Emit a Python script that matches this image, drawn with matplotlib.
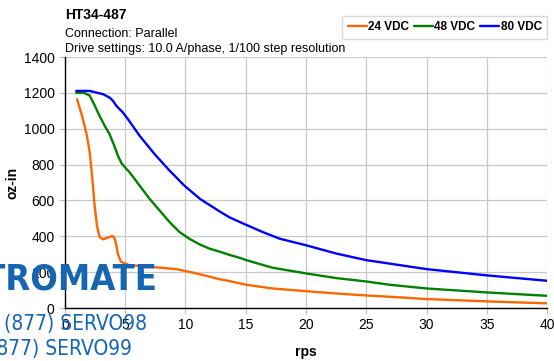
# HT34-487 torque curves, parallel connection
import matplotlib
matplotlib.use("Agg")
from matplotlib import pyplot as plt

rps_24 = [1.0, 1.49, 1.82, 2.05, 2.19, 2.32, 2.46, 2.65, 2.87, 3.15, 3.56, 3.93, 4.12, 4.26,
          4.39, 4.53, 4.67, 5.36, 7.0, 9.23, 10.9, 12.8, 13.67, 15, 17.2, 20, 22.5, 25, 26.9,
          30, 35, 40]
tq_24 = [1165, 1054, 961, 869, 776, 683, 572, 461, 396, 383, 393, 402, 390, 350,
         300, 276, 257, 239, 230, 217, 193, 161, 150, 130, 109, 94, 81, 70, 63,
         50, 37, 26]

rps_48 = [0.94, 1.6, 2.05, 2.46, 2.87, 3.29, 3.7, 4.12, 4.39, 4.67, 5.09, 5.36, 6.19, 7.02,
          7.85, 8.67, 9.5, 10.3, 11.2, 12.0, 12.8, 13.67, 14.5, 15, 17.2, 20, 22.5, 25, 26.9,
          30, 35, 40]
tq_48 = [1200, 1200, 1185, 1130, 1072, 1017, 970, 900, 850, 810, 776, 757, 683, 609,
         544, 480, 424, 387, 354, 331, 315, 296, 280, 268, 225, 193, 167, 148, 130,
         109, 87, 68]

rps_80 = [0.94, 2.05, 3.15, 3.7, 3.98, 4.26, 4.8, 5.22, 6.19, 7.43, 8.67, 9.9, 11.2, 12.8,
          13.67, 15, 16.4, 17.8, 20, 22.5, 25, 26.9, 30, 35, 40]
tq_80 = [1211, 1211, 1193, 1174, 1156, 1128, 1091, 1054, 961, 859, 767, 683, 609, 540,
         505, 465, 424, 387, 350, 304, 267, 248, 217, 182, 152]

x_ticks = list(range(0, 41, 5))
y_ticks = list(range(0, 1401, 200))

plt.rcParams['font.family'] = ['Liberation Sans', 'DejaVu Sans']

fig = plt.figure(figsize=(5.54, 3.61), dpi=100)
ax = fig.add_axes([0.1173, 0.1468, 0.8701, 0.6952])

kw = dict(lw=1.7, solid_joinstyle='round', solid_capstyle='round')
ax.plot(rps_24, tq_24, color='#ff6600', label='24 VDC', **kw)
ax.plot(rps_48, tq_48, color='#008000', label='48 VDC', **kw)
ax.plot(rps_80, tq_80, color='#0000ff', label='80 VDC', **kw)

ax.set_xlim(0, 40)
ax.set_ylim(0, 1400)
ax.set_xticks(x_ticks)
ax.set_yticks(y_ticks)
ax.grid(True, color='#c8c8c8', lw=0.9)
ax.set_axisbelow(True)
ax.tick_params(colors='#c0c0c0', labelcolor='black', labelsize=10, length=4, width=0.9)
for s in ['top', 'right']:
    ax.spines[s].set_visible(False)
for s in ['left', 'bottom']:
    ax.spines[s].set_color('black')
    ax.spines[s].set_linewidth(1.0)

ax.set_xlabel('rps', fontweight='bold', fontsize=10, labelpad=9)
ax.set_ylabel('oz-in', fontweight='bold', fontsize=10, labelpad=3)

fig.text(0.1173, 0.958, 'HT34-487', fontweight='bold', fontsize=10, va='center')
fig.text(0.1173, 0.905, 'Connection: Parallel', fontsize=9, va='center')
fig.text(0.1173, 0.865, 'Drive settings: 10.0 A/phase, 1/100 step resolution', fontsize=9, va='center')

leg = fig.legend(loc='upper right', bbox_to_anchor=(0.998, 0.972), ncol=3, frameon=True,
                 fancybox=False, edgecolor='#d0d0d0', handlelength=1.6, handletextpad=0.1,
                 columnspacing=0.45, borderpad=0.45, prop={'weight': 'bold', 'size': 8.5})

# distributor watermark, clipped at left edge
wm = '#1565b0'
W, H = 554, 361
fig.text(157 / W, (H - 290) / H, 'ELECTROMATE', family='DejaVu Sans', fontstretch='condensed',
         fontweight='bold', fontsize=26, color=wm, ha='right', va='baseline', zorder=10)
fig.text(147 / W, (H - 330) / H, '(877) SERVO98', family='DejaVu Sans', fontstretch='condensed',
         fontsize=15, color=wm, ha='right', va='baseline', zorder=10)
fig.text(132 / W, (H - 355) / H, '(877) SERVO99', family='DejaVu Sans', fontstretch='condensed',
         fontsize=15, color=wm, ha='right', va='baseline', zorder=10)

fig.savefig('out.png', dpi=100)
